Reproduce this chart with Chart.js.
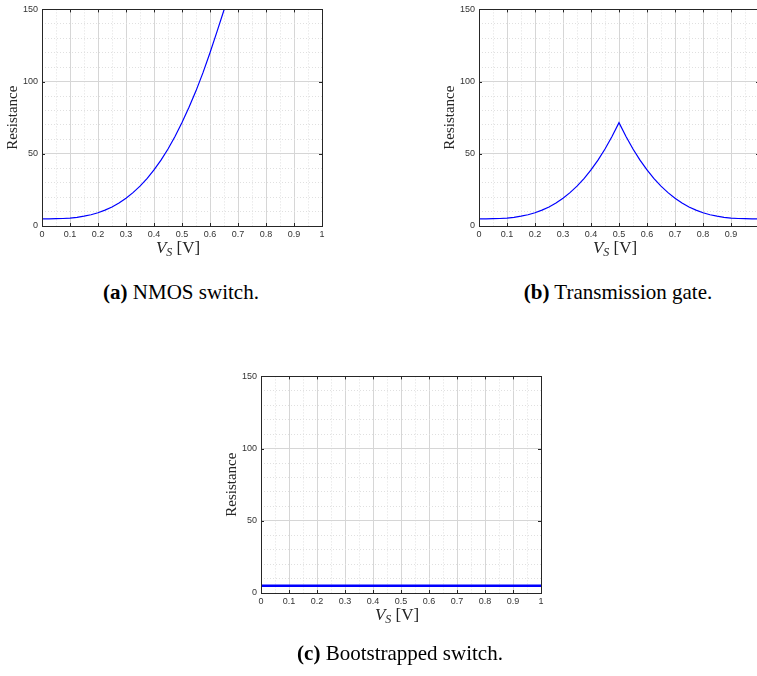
<!DOCTYPE html>
<html>
<head>
<meta charset="utf-8">
<script src="https://cdn.jsdelivr.net/npm/chart.js@4"></script>
<style>
  html, body { margin: 0; padding: 0; background: #fff; }
  body { width: 757px; height: 676px; overflow: hidden; position: relative; }
  .plot { position: absolute; width: 330px; height: 262px; }
  .xlab { position: absolute; font: 17px "Liberation Serif", "DejaVu Serif", serif; color: #262626;
          transform: translateX(-50%); white-space: nowrap; line-height: 17px; }
  .xlab sub { font-size: 12px; vertical-align: -3px; line-height: 0; }
  .cap { position: absolute; font: 21px "Liberation Serif", "Times New Roman", serif; color: #000;
         transform: translateX(-50%); white-space: nowrap; line-height: 21px; }
</style>
</head>
<body>
<div class="plot" style="left:0;top:0"><canvas id="nmosChart"></canvas></div>
<div class="plot" style="left:437px;top:0"><canvas id="tgChart"></canvas></div>
<div class="plot" style="left:219px;top:367px"><canvas id="bootChart"></canvas></div>

<div class="xlab" style="left:178px;top:239px"><i>V</i><sub><i>S</i></sub> [V]</div>
<div class="xlab" style="left:615px;top:239px"><i>V</i><sub><i>S</i></sub> [V]</div>
<div class="xlab" style="left:397px;top:606px"><i>V</i><sub><i>S</i></sub> [V]</div>

<div class="cap" style="left:181px;top:282px"><b>(a)</b> NMOS switch.</div>
<div class="cap" style="left:618px;top:282px"><b>(b)</b> Transmission gate.</div>
<div class="cap" style="left:400px;top:643px"><b>(c)</b> Bootstrapped switch.</div>

<script>
// V_S sample points [V]
const vsNmos = [0, 0.025, 0.05, 0.075, 0.1, 0.125, 0.15, 0.175, 0.2, 0.225, 0.25, 0.275, 0.3,
    0.325, 0.35, 0.375, 0.4, 0.425, 0.45, 0.475, 0.5, 0.525, 0.55, 0.575, 0.6, 0.625, 0.65, 0.675];
const rNmos = [5.0, 5.0, 5.1, 5.2, 5.5, 6.0, 6.8, 7.8, 9.2, 11.0, 13.2, 15.9, 19.2,
    23.1, 27.6, 32.8, 38.8, 45.6, 53.3, 62.0, 71.6, 82.2, 93.6, 106.2, 120.0, 134.6, 149.6, 166.0];

const vsTg = [0, 0.025, 0.05, 0.075, 0.1, 0.125, 0.15, 0.175, 0.2, 0.225, 0.25, 0.275, 0.3,
    0.325, 0.35, 0.375, 0.4, 0.425, 0.45, 0.475, 0.5, 0.525, 0.55, 0.575, 0.6, 0.625, 0.65,
    0.675, 0.7, 0.725, 0.75, 0.775, 0.8, 0.825, 0.85, 0.875, 0.9, 0.925, 0.95, 0.975, 1.0];
const rTg = [5.0, 5.0, 5.1, 5.2, 5.5, 6.0, 6.8, 7.8, 9.2, 11.0, 13.2, 15.9, 19.2,
    23.1, 27.6, 32.8, 38.8, 45.6, 53.3, 62.0, 71.6, 62.0, 53.3, 45.6, 38.8, 32.8, 27.6,
    23.1, 19.2, 15.9, 13.2, 11.0, 9.2, 7.8, 6.8, 6.0, 5.5, 5.2, 5.1, 5.0, 5.0];

const vsBoot = [0, 1];
const rBoot = [5, 5];

// axis ticks
const xTickLabels = ['0', '0.1', '0.2', '0.3', '0.4', '0.5', '0.6', '0.7', '0.8', '0.9', '1'];
const yTickLabels = ['0', '50', '100', '150'];
const xMajor = [0, 0.1, 0.2, 0.3, 0.4, 0.5, 0.6, 0.7, 0.8, 0.9, 1];
const yMajor = [0, 50, 100, 150];

const isMajorX = v => Math.abs(v * 10 - Math.round(v * 10)) < 1e-6;
const isMajorY = v => Math.abs(v / 50 - Math.round(v / 50)) < 1e-6;

const tickFont = { family: 'Liberation Sans, Arial, sans-serif', size: 9 };

// MATLAB style box with inward ticks
const boxPlugin = {
    id: 'box',
    afterDraw(chart) {
        const { ctx, chartArea: a, scales } = chart;
        ctx.save();
        ctx.strokeStyle = '#262626';
        ctx.lineWidth = 1;
        ctx.beginPath();
        xMajor.forEach(v => {
            const px = Math.round(scales.x.getPixelForValue(v)) + 0.5;
            ctx.moveTo(px, a.bottom); ctx.lineTo(px, a.bottom - 3);
            ctx.moveTo(px, a.top); ctx.lineTo(px, a.top + 3);
        });
        yMajor.forEach(v => {
            const py = Math.round(scales.y.getPixelForValue(v)) + 0.5;
            ctx.moveTo(a.left, py); ctx.lineTo(a.left + 3, py);
            ctx.moveTo(a.right, py); ctx.lineTo(a.right - 3, py);
        });
        ctx.stroke();
        ctx.strokeRect(Math.round(a.left) + 0.5, Math.round(a.top) + 0.5,
            Math.round(a.right - a.left), Math.round(a.bottom - a.top));
        ctx.restore();
    }
};

function makeChart(id, xs, ys, width) {
    const points = xs.map((x, i) => ({ x: x, y: ys[i] }));
    return new Chart(document.getElementById(id), {
        type: 'line',
        data: {
            datasets: [{
                label: 'Resistance',
                data: points,
                borderColor: '#0000ff',
                borderWidth: width,
                pointRadius: 0,
                tension: 0,
                fill: false
            }]
        },
        options: {
            animation: false,
            responsive: true,
            maintainAspectRatio: false,
            layout: { padding: { top: 6, right: 8, left: 0, bottom: 0 } },
            plugins: { legend: { display: false }, tooltip: { enabled: false } },
            scales: {
                x: {
                    type: 'linear',
                    min: 0,
                    max: 1,
                    afterFit: s => { s.height = 36; },
                    ticks: {
                        stepSize: 0.05,
                        autoSkip: false,
                        maxRotation: 0,
                        padding: 3,
                        font: tickFont,
                        color: '#333',
                        callback: v => isMajorX(v) ? xTickLabels[Math.round(v * 10)] : ''
                    },
                    grid: {
                        drawTicks: false,
                        color: c => c.tick && isMajorX(c.tick.value) ? '#d6d6d6' : '#e0e0e0'
                    },
                    border: {
                        display: false,
                        dash: c => (c.tick && !isMajorX(c.tick.value)) ? [1, 2] : []
                    }
                },
                y: {
                    min: 0,
                    max: 150,
                    afterFit: s => { s.width = 42; },
                    title: {
                        display: true,
                        text: 'Resistance',
                        font: { family: 'Liberation Serif, DejaVu Serif, serif', size: 15 },
                        color: '#262626',
                        padding: { top: 4, bottom: 0 }
                    },
                    ticks: {
                        stepSize: 10,
                        autoSkip: false,
                        padding: 4,
                        font: tickFont,
                        color: '#333',
                        callback: v => isMajorY(v) ? yTickLabels[Math.round(v / 50)] : ''
                    },
                    grid: {
                        drawTicks: false,
                        color: c => c.tick && isMajorY(c.tick.value) ? '#d6d6d6' : '#e0e0e0'
                    },
                    border: {
                        display: false,
                        dash: c => (c.tick && !isMajorY(c.tick.value)) ? [1, 2] : []
                    }
                }
            }
        },
        plugins: [boxPlugin]
    });
}

makeChart('nmosChart', vsNmos, rNmos, 1.2);
makeChart('tgChart', vsTg, rTg, 1.2);
makeChart('bootChart', vsBoot, rBoot, 2.5);
</script>
</body>
</html>
